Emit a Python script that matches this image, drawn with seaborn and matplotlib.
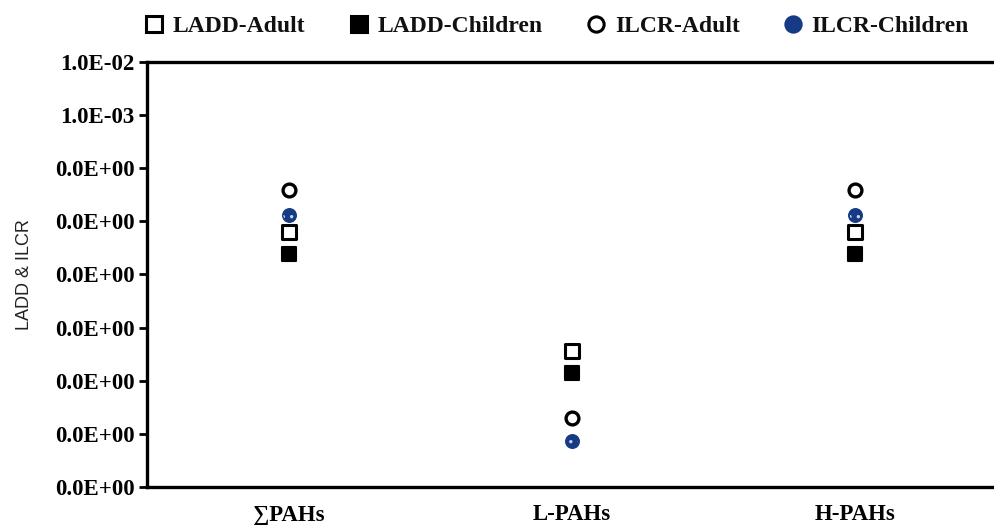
import pandas as pd
import matplotlib.pyplot as plt
import seaborn as sns
from matplotlib.lines import Line2D
from matplotlib.ticker import FixedLocator, FixedFormatter, NullLocator

# ---------------- DATA ----------------
categories = ["∑PAHs", "L-PAHs", "H-PAHs"]
ladd_adult = [6.3e-6, 3.6e-8, 6.3e-6]
ladd_children = [2.4e-6, 1.4e-8, 2.4e-6]
ilcr_adult = [3.9e-5, 2.0e-9, 3.9e-5]
ilcr_children = [1.3e-5, 7.2e-10, 1.3e-5]

ytick_values = [1e-2, 1e-3, 1e-4, 1e-5, 1e-6, 1e-7, 1e-8, 1e-9, 1e-10]
ytick_labels = ["1.0E-02", "1.0E-03", "0.0E+00", "0.0E+00", "0.0E+00",
                "0.0E+00", "0.0E+00", "0.0E+00", "0.0E+00"]

series = {
    "LADD-Adult": ladd_adult,
    "LADD-Children": ladd_children,
    "ILCR-Adult": ilcr_adult,
    "ILCR-Children": ilcr_children,
}

rows = []
for name, vals in series.items():
    for cat, v in zip(categories, vals):
        rows.append({"cat": cat, "value": v, "series": name})
df = pd.DataFrame(rows)

# ---------------- STYLE ----------------
sns.set_style("white")
plt.rcParams["font.family"] = ["Liberation Serif", "DejaVu Serif"]
plt.rcParams["hatch.linewidth"] = 1.2
navy = "#173a84"
styles = {
    "LADD-Adult": dict(marker="s", facecolor="white", edgecolor="black", s=105, linewidth=2.2),
    "LADD-Children": dict(marker="s", facecolor="black", edgecolor="black", s=105, linewidth=1.5),
    "ILCR-Adult": dict(marker="o", facecolor="white", edgecolor="black", s=85, linewidth=2.4),
    "ILCR-Children": dict(marker="o", facecolor=navy, edgecolor=navy, s=95, linewidth=1.0),
}

fig = plt.figure(figsize=(9.94, 5.25), dpi=100)
ax = fig.add_axes([0.148, 0.0724, 0.855, 0.8096])

for name in series:
    sub = df[df["series"] == name]
    sns.scatterplot(data=sub, x="cat", y="value", ax=ax, legend=False,
                    zorder=3, **styles[name])

# light dotted texture on the blue circles
sub = df[df["series"] == "ILCR-Children"]
ax.scatter(sub["cat"], sub["value"], s=60, marker="o", facecolor="none",
           edgecolor="#c8d2ea", linewidth=0, hatch="..", zorder=4)

ax.set_yscale("log")
ax.set_ylim(1e-10, 1e-2)
ax.set_xlim(-0.5, 2.5)
ax.yaxis.set_major_locator(FixedLocator(ytick_values))
ax.yaxis.set_major_formatter(FixedFormatter(ytick_labels))
ax.yaxis.set_minor_locator(NullLocator())

ax.tick_params(axis="y", which="major", length=6, width=2, direction="out",
               left=True, pad=3, colors="black", labelsize=16.5)
ax.tick_params(axis="x", length=0, pad=12, labelsize=16.5, labelcolor="black")
for lab in ax.get_yticklabels() + ax.get_xticklabels():
    lab.set_fontweight("bold")

ax.set_xlabel("")
ax.set_ylabel("LADD & ILCR", fontsize=13, family="Liberation Sans",
              color="#222222", labelpad=16)

for side in ["left", "top", "bottom"]:
    ax.spines[side].set_visible(True)
    ax.spines[side].set_linewidth(2.4)
    ax.spines[side].set_color("black")
ax.spines["right"].set_visible(False)

handles = []
for name in series:
    st = styles[name]
    handles.append(Line2D([], [], linestyle="none", marker=st["marker"],
                          markerfacecolor=st["facecolor"], markeredgecolor=st["edgecolor"],
                          markersize=11, markeredgewidth=2.2, label=name))
fig.legend(handles=handles, loc="center", bbox_to_anchor=(0.559, 0.95), ncol=4,
           frameon=False, prop={"weight": "bold", "size": 17},
           handletextpad=0.3, columnspacing=1.75, handlelength=1.0,
           labelcolor="#111111")

fig.savefig("out.png", dpi=100)
